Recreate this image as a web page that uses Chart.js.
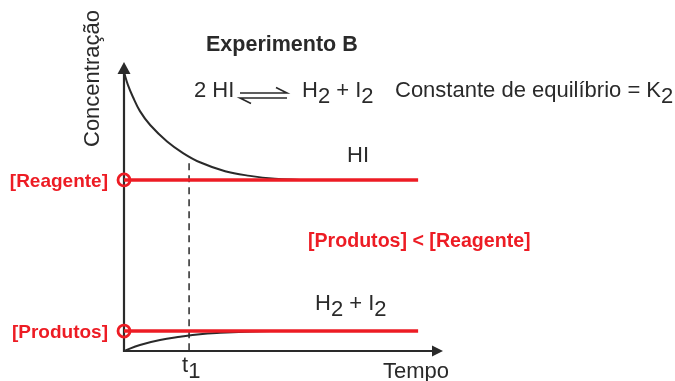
<!DOCTYPE html>
<html><head><meta charset="utf-8">
<script src="https://cdn.jsdelivr.net/npm/chart.js@4.4.0/dist/chart.umd.min.js"></script>
<style>html,body{margin:0;padding:0;background:#fff}#wrap{width:675px;height:381px}</style>
</head><body><div id="wrap"><canvas id="c" width="675" height="381"></canvas></div>
<script>
// ---- data ----
const hiX   = [0, 0.125, 0.28, 0.5, 0.82, 1.35, 1.85, 2.38, 3.17, 3.95, 4.73, 5.52];
const hiY   = [9.65, 9.20, 8.79, 8.30, 7.82, 7.25, 6.85, 6.53, 6.22, 6.06, 5.96, 5.92];
const prodX = [0, 0.5, 1.13, 1.76, 2.38, 3.01, 3.79, 4.6];
const prodY = [0, 0.21, 0.38, 0.49, 0.58, 0.63, 0.67, 0.69];
const levelLabels = ['[Reagente]', '[Produtos]'];
const levels = [5.92, 0.69];
const levelEnd = 9.22;
const t1 = 2.04;
const t1Top = 6.5;
const axisMax = [10, 10];

const RED = '#ed1c24';
const INK = '#2a2a2a';
const FONT = '"Liberation Sans", Arial, Helvetica, sans-serif';

const pts = (xs, ys) => xs.map((x, i) => ({x, y: ys[i]}));

function rich(ctx, x, y, parts) {
  for (const p of parts) {
    ctx.fillText(p.t, x, y + (p.sub ? 6 : 0));
    x += ctx.measureText(p.t).width + (p.gap || 0);
  }
}

const deco = {
  id: 'deco',
  beforeDatasetsDraw(chart) {
    const ctx = chart.ctx, xs = chart.scales.x, ys = chart.scales.y;
    const x0 = xs.getPixelForValue(0), y0 = ys.getPixelForValue(0);
    const xt = xs.getPixelForValue(axisMax[0]), yt = ys.getPixelForValue(axisMax[1]);
    ctx.save();
    ctx.strokeStyle = INK; ctx.fillStyle = INK; ctx.lineWidth = 2.2;
    ctx.beginPath();
    ctx.moveTo(x0, yt + 10); ctx.lineTo(x0, y0); ctx.lineTo(xt - 10, y0);
    ctx.stroke();
    ctx.beginPath();
    ctx.moveTo(x0, yt); ctx.lineTo(x0 - 6.5, yt + 12); ctx.lineTo(x0 + 6.5, yt + 12); ctx.closePath(); ctx.fill();
    ctx.beginPath();
    ctx.moveTo(xt, y0); ctx.lineTo(xt - 11, y0 - 5.5); ctx.lineTo(xt - 11, y0 + 5.5); ctx.closePath(); ctx.fill();
    ctx.restore();
  },
  afterDraw(chart) {
    const ctx = chart.ctx, xs = chart.scales.x, ys = chart.scales.y;
    ctx.save();
    ctx.textBaseline = 'alphabetic';
    // title
    ctx.fillStyle = INK;
    ctx.font = 'bold 21.5px ' + FONT;
    ctx.textAlign = 'left';
    ctx.fillText('Experimento B', 206, 51);
    // equation
    ctx.font = '22px ' + FONT;
    ctx.fillText('2 HI', 194, 97);
    ctx.strokeStyle = INK; ctx.lineWidth = 1.6;
    ctx.beginPath();
    ctx.moveTo(240, 93); ctx.lineTo(287, 93); ctx.lineTo(276, 87.5);
    ctx.moveTo(287, 98); ctx.lineTo(240, 98); ctx.lineTo(251, 103.5);
    ctx.stroke();
    rich(ctx, 302, 97, [{t: 'H'}, {t: '2', sub: true}, {t: ' + I'}, {t: '2', sub: true}]);
    rich(ctx, 395, 97, [{t: 'Constante de equilíbrio = K'}, {t: '2', sub: true}]);
    // series labels
    ctx.fillText('HI', 347, 162);
    rich(ctx, 315, 310, [{t: 'H'}, {t: '2', sub: true}, {t: ' + I'}, {t: '2', sub: true}]);
    // axis labels
    ctx.fillText('Tempo', 383, 378);
    rich(ctx, xs.getPixelForValue(t1) - 7, 372, [{t: 't'}, {t: '1', sub: true}]);
    ctx.save();
    ctx.translate(99, 147);
    ctx.rotate(-Math.PI / 2);
    ctx.fillText('Concentração', 0, 0);
    ctx.restore();
    // red labels
    ctx.fillStyle = RED;
    ctx.font = 'bold 19px ' + FONT;
    ctx.textAlign = 'right';
    levels.forEach((v, i) => ctx.fillText(levelLabels[i], 108, ys.getPixelForValue(v) + 7));
    ctx.textAlign = 'left';
    ctx.font = 'bold 19.6px ' + FONT;
    ctx.fillText('[Produtos] < [Reagente]', 308, 247);
    ctx.restore();
  }
};

new Chart(document.getElementById('c'), {
  type: 'scatter',
  data: {
    datasets: [
      {data: pts(hiX, hiY), showLine: true, borderColor: INK, borderWidth: 2, pointRadius: 0, tension: 0.4, order: 3},
      {data: pts(prodX, prodY), showLine: true, borderColor: INK, borderWidth: 2, pointRadius: 0, tension: 0.4, order: 3},
      {data: [{x: 0, y: levels[0]}, {x: levelEnd, y: levels[0]}], showLine: true, borderColor: RED, borderWidth: 3.5, pointRadius: 0, order: 1},
      {data: [{x: 0, y: levels[1]}, {x: levelEnd, y: levels[1]}], showLine: true, borderColor: RED, borderWidth: 3.5, pointRadius: 0, order: 1},
      {data: levels.map(v => ({x: 0, y: v})), showLine: false, clip: false, pointRadius: 6, pointBorderWidth: 2.8, pointBorderColor: RED, pointBackgroundColor: 'rgba(0,0,0,0)', order: 0},
      {data: [{x: t1, y: t1Top}, {x: t1, y: 0}], showLine: true, borderColor: INK, borderWidth: 1.5, borderDash: [7, 5], pointRadius: 0, order: 4}
    ]
  },
  options: {
    responsive: false,
    animation: false,
    devicePixelRatio: 1,
    layout: {padding: {left: 124, right: 232, top: 62, bottom: 30}},
    plugins: {legend: {display: false}, tooltip: {enabled: false}},
    events: [],
    scales: {
      x: {type: 'linear', min: 0, max: axisMax[0], display: false},
      y: {type: 'linear', min: 0, max: axisMax[1], display: false}
    }
  },
  plugins: [deco]
});
</script></body></html>
